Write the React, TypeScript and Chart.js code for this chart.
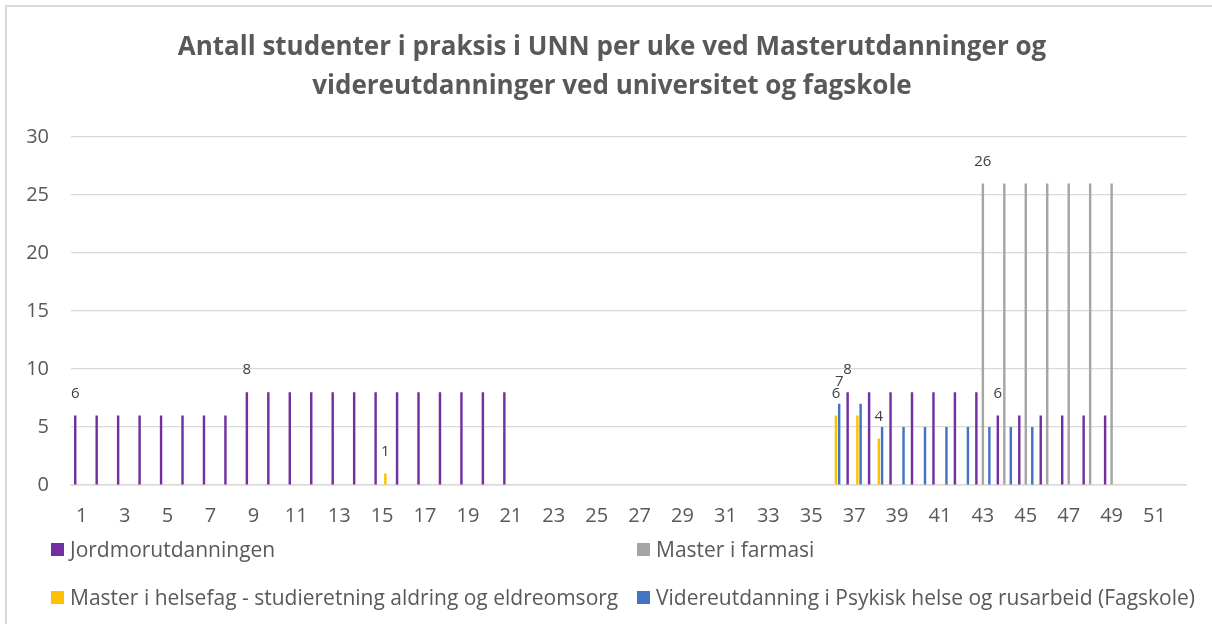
import React, { useEffect, useRef } from "react";
import { Chart, registerables } from "chart.js";

Chart.register(...registerables);

const n = null;

const titleLines = [
  "Antall studenter i praksis i UNN per uke ved Masterutdanninger og",
  "videreutdanninger ved universitet og fagskole",
];

const weeks = [
  "1", "2", "3", "4", "5", "6", "7", "8", "9", "10", "11", "12", "13",
  "14", "15", "16", "17", "18", "19", "20", "21", "22", "23", "24", "25", "26",
  "27", "28", "29", "30", "31", "32", "33", "34", "35", "36", "37", "38", "39",
  "40", "41", "42", "43", "44", "45", "46", "47", "48", "49", "50", "51", "52",
];

const yTicks = [0, 5, 10, 15, 20, 25, 30];

// Jordmorutdanningen
const jordmor = [
  6, 6, 6, 6, 6, 6, 6, 6, 8, 8, 8, 8, 8,
  8, 8, 8, 8, 8, 8, 8, 8, n, n, n, n, n,
  n, n, n, n, n, n, n, n, n, n, 8, 8, 8,
  8, 8, 8, 8, 6, 6, 6, 6, 6, 6, n, n, n,
];

// (unnamed empty series occupying a slot in each cluster)
const emptySeries = [
  n, n, n, n, n, n, n, n, n, n, n, n, n,
  n, n, n, n, n, n, n, n, n, n, n, n, n,
  n, n, n, n, n, n, n, n, n, n, n, n, n,
  n, n, n, n, n, n, n, n, n, n, n, n, n,
];

// Master i farmasi
const farmasi = [
  n, n, n, n, n, n, n, n, n, n, n, n, n,
  n, n, n, n, n, n, n, n, n, n, n, n, n,
  n, n, n, n, n, n, n, n, n, n, n, n, n,
  n, n, n, 26, 26, 26, 26, 26, 26, 26, n, n, n,
];

// Master i helsefag - studieretning aldring og eldreomsorg
const helsefag = [
  n, n, n, n, n, n, n, n, n, n, n, n, n,
  n, 1, n, n, n, n, n, n, n, n, n, n, n,
  n, n, n, n, n, n, n, n, n, 6, 6, 4, n,
  n, n, n, n, n, n, n, n, n, n, n, n, n,
];

// Videreutdanning i Psykisk helse og rusarbeid (Fagskole)
const videre = [
  n, n, n, n, n, n, n, n, n, n, n, n, n,
  n, n, n, n, n, n, n, n, n, n, n, n, n,
  n, n, n, n, n, n, n, n, n, 7, 7, 5, 5,
  5, 5, 5, 5, 5, 5, n, n, n, n, n, n, n,
];

// weeks whose value carries a data label
const jordmorLabelWeeks = ["1", "9", "37", "44"];
const farmasiLabelWeeks = ["43"];
const helsefagLabelWeeks = ["15", "36", "38"];
const videreLabelWeeks = ["36"];

const seriesNames = [
  "Jordmorutdanningen",
  "Master i farmasi",
  "Master i helsefag - studieretning aldring og eldreomsorg",
  "Videreutdanning i Psykisk helse og rusarbeid (Fagskole)",
];
const seriesColors = ["#7030A0", "#A5A5A5", "#FFC000", "#4472C4"];

const FONT = "'Open Sans', 'DejaVu Sans', sans-serif";
const TEXT = "#595959";

const labelPlugin = {
  id: "pointLabels",
  afterDatasetsDraw(chart: any) {
    const ctx = chart.ctx;
    ctx.save();
    ctx.font = `15px ${FONT}`;
    ctx.fillStyle = "#404040";
    ctx.textAlign = "center";
    ctx.textBaseline = "middle";
    chart.data.datasets.forEach((ds: any, di: number) => {
      const weeksToLabel: string[] = ds.labelWeeks || [];
      const meta = chart.getDatasetMeta(di);
      weeksToLabel.forEach((w) => {
        const idx = weeks.indexOf(w);
        const el = meta.data[idx];
        const v = ds.data[idx];
        if (!el || v == null) return;
        ctx.fillText(String(v), el.x, el.y - 22);
      });
    });
    ctx.restore();
  },
};

const titlePlugin = {
  id: "fixedTitle",
  afterDraw(chart: any) {
    const ctx = chart.ctx;
    ctx.save();
    ctx.font = `bold 26px ${FONT}`;
    ctx.fillStyle = TEXT;
    ctx.textAlign = "center";
    ctx.textBaseline = "alphabetic";
    ctx.fillText(titleLines[0], 612, 55);
    ctx.fillText(titleLines[1], 612, 94);
    ctx.restore();
  },
};

function ChartCanvas() {
  const ref = useRef<HTMLCanvasElement | null>(null);
  useEffect(() => {
    if (!ref.current) return;
    const barCommon = { categoryPercentage: 0.757, barPercentage: 0.75, borderWidth: 0 };
    const chart = new Chart(ref.current, {
      type: "bar",
      data: {
        labels: weeks,
        datasets: [
          { label: seriesNames[0], data: jordmor, backgroundColor: seriesColors[0], labelWeeks: jordmorLabelWeeks, ...barCommon } as any,
          { label: "", data: emptySeries, backgroundColor: "rgba(0,0,0,0)", ...barCommon } as any,
          { label: seriesNames[1], data: farmasi, backgroundColor: seriesColors[1], labelWeeks: farmasiLabelWeeks, ...barCommon } as any,
          { label: seriesNames[2], data: helsefag, backgroundColor: seriesColors[2], labelWeeks: helsefagLabelWeeks, ...barCommon } as any,
          { label: seriesNames[3], data: videre, backgroundColor: seriesColors[3], labelWeeks: videreLabelWeeks, ...barCommon } as any,
        ],
      },
      options: {
        animation: false,
        responsive: false,
        maintainAspectRatio: false,
        devicePixelRatio: 1,
        layout: { padding: { top: 137, left: 0, right: 25.3, bottom: 99 } },
        plugins: {
          legend: { display: false },
          title: { display: false },
          tooltip: { enabled: false },
        },
        scales: {
          x: {
            grid: { display: false, drawTicks: false },
            border: { display: true, color: "#D9D9D9", width: 1.5 },
            ticks: {
              autoSkip: false,
              maxRotation: 0,
              minRotation: 0,
              padding: 19,
              color: TEXT,
              font: { family: FONT, size: 20 },
              callback: (_v: any, i: number) => (i % 2 === 0 ? weeks[i] : ""),
            },
            afterFit: (s: any) => {
              s.height = 40;
            },
          },
          y: {
            min: yTicks[0],
            max: yTicks[yTicks.length - 1],
            grid: { color: "#D9D9D9", lineWidth: 1.2, drawTicks: false },
            border: { display: false },
            ticks: {
              stepSize: yTicks[1] - yTicks[0],
              padding: 22,
              color: TEXT,
              font: { family: FONT, size: 20 },
            },
            afterFit: (s: any) => {
              s.width = 71;
            },
          },
        },
      } as any,
      plugins: [labelPlugin, titlePlugin],
    });
    return () => chart.destroy();
  }, []);
  return <canvas ref={ref} width={1212} height={624} style={{ position: "absolute", left: 0, top: 0 }} />;
}

function Legend() {
  const rows = [
    [0, 1],
    [2, 3],
  ];
  const rowY = [549, 597];
  const colX = [51, 637];
  const items: React.ReactNode[] = [];
  rows.forEach((r, ri) =>
    r.forEach((si, ci) => {
      items.push(
        <div
          key={si}
          style={{
            position: "absolute",
            left: colX[ci],
            top: rowY[ri] - 14,
            height: 28,
            display: "flex",
            alignItems: "center",
            whiteSpace: "nowrap",
            fontFamily: FONT,
            fontSize: 21,
            color: TEXT,
          }}
        >
          <span
            style={{
              display: "inline-block",
              width: 13,
              height: 13,
              background: seriesColors[si],
              marginRight: 6,
            }}
          />
          <span>{seriesNames[si]}</span>
        </div>
      );
    })
  );
  return <>{items}</>;
}

export default function App() {
  return (
    <div
      style={{
        position: "fixed",
        left: 0,
        top: 0,
        width: 1212,
        height: 624,
        overflow: "hidden",
        background: "#fff",
      }}
    >
      <div
        style={{
          position: "absolute",
          left: 5,
          top: 5,
          width: 1300,
          height: 700,
          border: "2px solid #D9D9D9",
          boxSizing: "border-box",
        }}
      />
      <ChartCanvas />
      <Legend />
    </div>
  );
}
